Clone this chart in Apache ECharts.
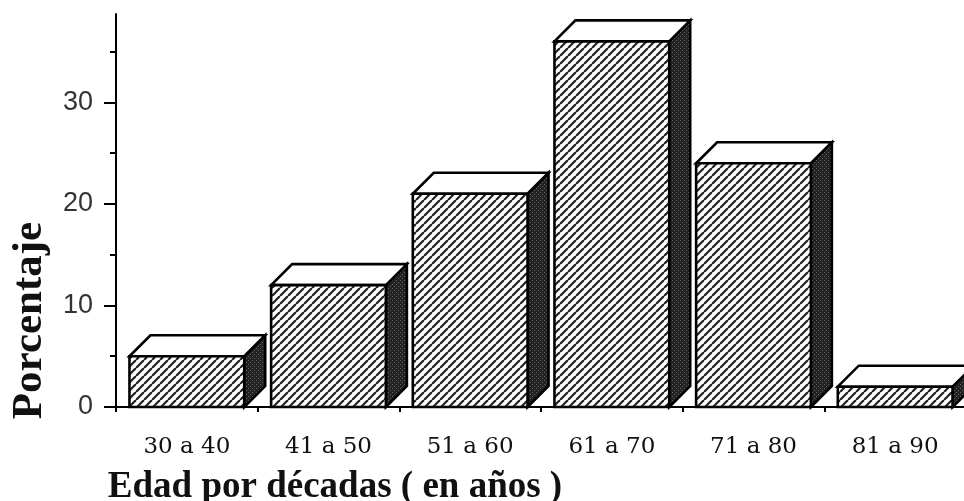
<!DOCTYPE html>
<html>
<head>
<meta charset="utf-8">
<style>
html, body { margin: 0; padding: 0; background: #fff; }
#main { width: 964px; height: 501px; }
</style>
<script src="https://cdn.jsdelivr.net/npm/echarts@6/dist/echarts.min.js"></script>
</head>
<body>
<div id="main"></div>
<script>
var categories = ['30 a 40', '41 a 50', '51 a 60', '61 a 70', '71 a 80', '81 a 90'];
var percentages = [5, 12, 21, 36, 24, 2];
var majorTicks = [0, 10, 20, 30];
var minorTicks = [5, 15, 25, 35];

// diagonal hatch for the bar fronts
function hatchTile() {
  var c = document.createElement('canvas');
  c.width = 8;
  c.height = 8;
  var ctx = c.getContext('2d');
  ctx.fillStyle = '#fff';
  ctx.fillRect(0, 0, 8, 8);
  ctx.strokeStyle = '#222';
  ctx.lineWidth = 2.2;
  [-8, 0, 8].forEach(function (d) {
    ctx.beginPath();
    ctx.moveTo(d, 8);
    ctx.lineTo(d + 8, 0);
    ctx.stroke();
  });
  return c;
}

// dark stipple for the bar sides
function stippleTile() {
  var c = document.createElement('canvas');
  c.width = 4;
  c.height = 4;
  var ctx = c.getContext('2d');
  ctx.fillStyle = '#222';
  ctx.fillRect(0, 0, 4, 4);
  ctx.fillStyle = '#666';
  ctx.fillRect(0, 0, 1, 1);
  ctx.fillRect(2, 2, 1, 1);
  return c;
}

var hatch = { image: hatchTile(), repeat: 'repeat' };
var stipple = { image: stippleTile(), repeat: 'repeat' };
var DEPTH = 21;

function renderBar(params, api) {
  var base = api.coord([api.value(0), 0]);
  var top = api.coord([api.value(0), api.value(1)]);
  var band = api.size([1, 0])[0];
  var x0 = base[0] - band * 0.405;
  var x1 = base[0] + band * 0.405;
  var edge = { stroke: '#000', lineWidth: 2.6, lineJoin: 'miter' };
  return {
    type: 'group',
    children: [{
      type: 'polygon',
      shape: { points: [[x1, top[1]], [x1 + DEPTH, top[1] - DEPTH], [x1 + DEPTH, base[1] - DEPTH], [x1, base[1]]] },
      style: Object.assign({ fill: stipple }, edge)
    }, {
      type: 'polygon',
      shape: { points: [[x0, top[1]], [x0 + DEPTH, top[1] - DEPTH], [x1 + DEPTH, top[1] - DEPTH], [x1, top[1]]] },
      style: Object.assign({ fill: '#fff' }, edge)
    }, {
      type: 'rect',
      shape: { x: x0, y: top[1], width: x1 - x0, height: base[1] - top[1] },
      style: Object.assign({ fill: hatch }, edge)
    }]
  };
}

var chart = echarts.init(document.getElementById('main'));
chart.setOption({
  animation: false,
  backgroundColor: '#fff',
  grid: { left: 116, right: -2, top: 14, bottom: 94, outerBoundsMode: 'none' },
  xAxis: {
    type: 'category',
    data: categories,
    name: 'Edad por décadas ( en años )',
    nameLocation: 'middle',
    nameGap: 62,
    nameTextStyle: {
      fontFamily: 'Liberation Serif',
      fontWeight: 'bold',
      fontSize: 37,
      color: '#111',
      padding: [0, 412, 0, 0]
    },
    axisLine: { onZero: false, lineStyle: { color: '#000', width: 2 } },
    axisTick: { show: true, length: 5, lineStyle: { color: '#000', width: 2 } },
    axisLabel: {
      interval: 0,
      margin: 29,
      fontFamily: 'DejaVu Serif',
      fontSize: 23,
      color: '#111'
    }
  },
  yAxis: [{
    type: 'value',
    min: 0,
    max: 38.7,
    name: 'Porcentaje',
    nameLocation: 'middle',
    nameGap: 65,
    nameTextStyle: {
      fontFamily: 'Liberation Serif',
      fontWeight: 'bold',
      fontSize: 43,
      color: '#111',
      padding: [0, 220, 0, 0]
    },
    splitLine: { show: false },
    axisLine: { show: true, lineStyle: { color: '#000', width: 2 } },
    axisTick: { show: true, length: 12, customValues: majorTicks, lineStyle: { color: '#000', width: 2 } },
    axisLabel: {
      customValues: majorTicks,
      margin: 23,
      fontFamily: 'Liberation Sans',
      fontSize: 27,
      color: '#333'
    }
  }, {
    type: 'value',
    min: 0,
    max: 38.7,
    position: 'left',
    splitLine: { show: false },
    axisLine: { show: false },
    axisTick: { show: true, length: 6, customValues: minorTicks, lineStyle: { color: '#000', width: 2 } },
    axisLabel: { show: false }
  }],
  series: [{
    type: 'custom',
    clip: false,
    renderItem: renderBar,
    encode: { x: 0, y: 1 },
    data: percentages.map(function (v, i) { return [i, v]; })
  }]
});
</script>
</body>
</html>
